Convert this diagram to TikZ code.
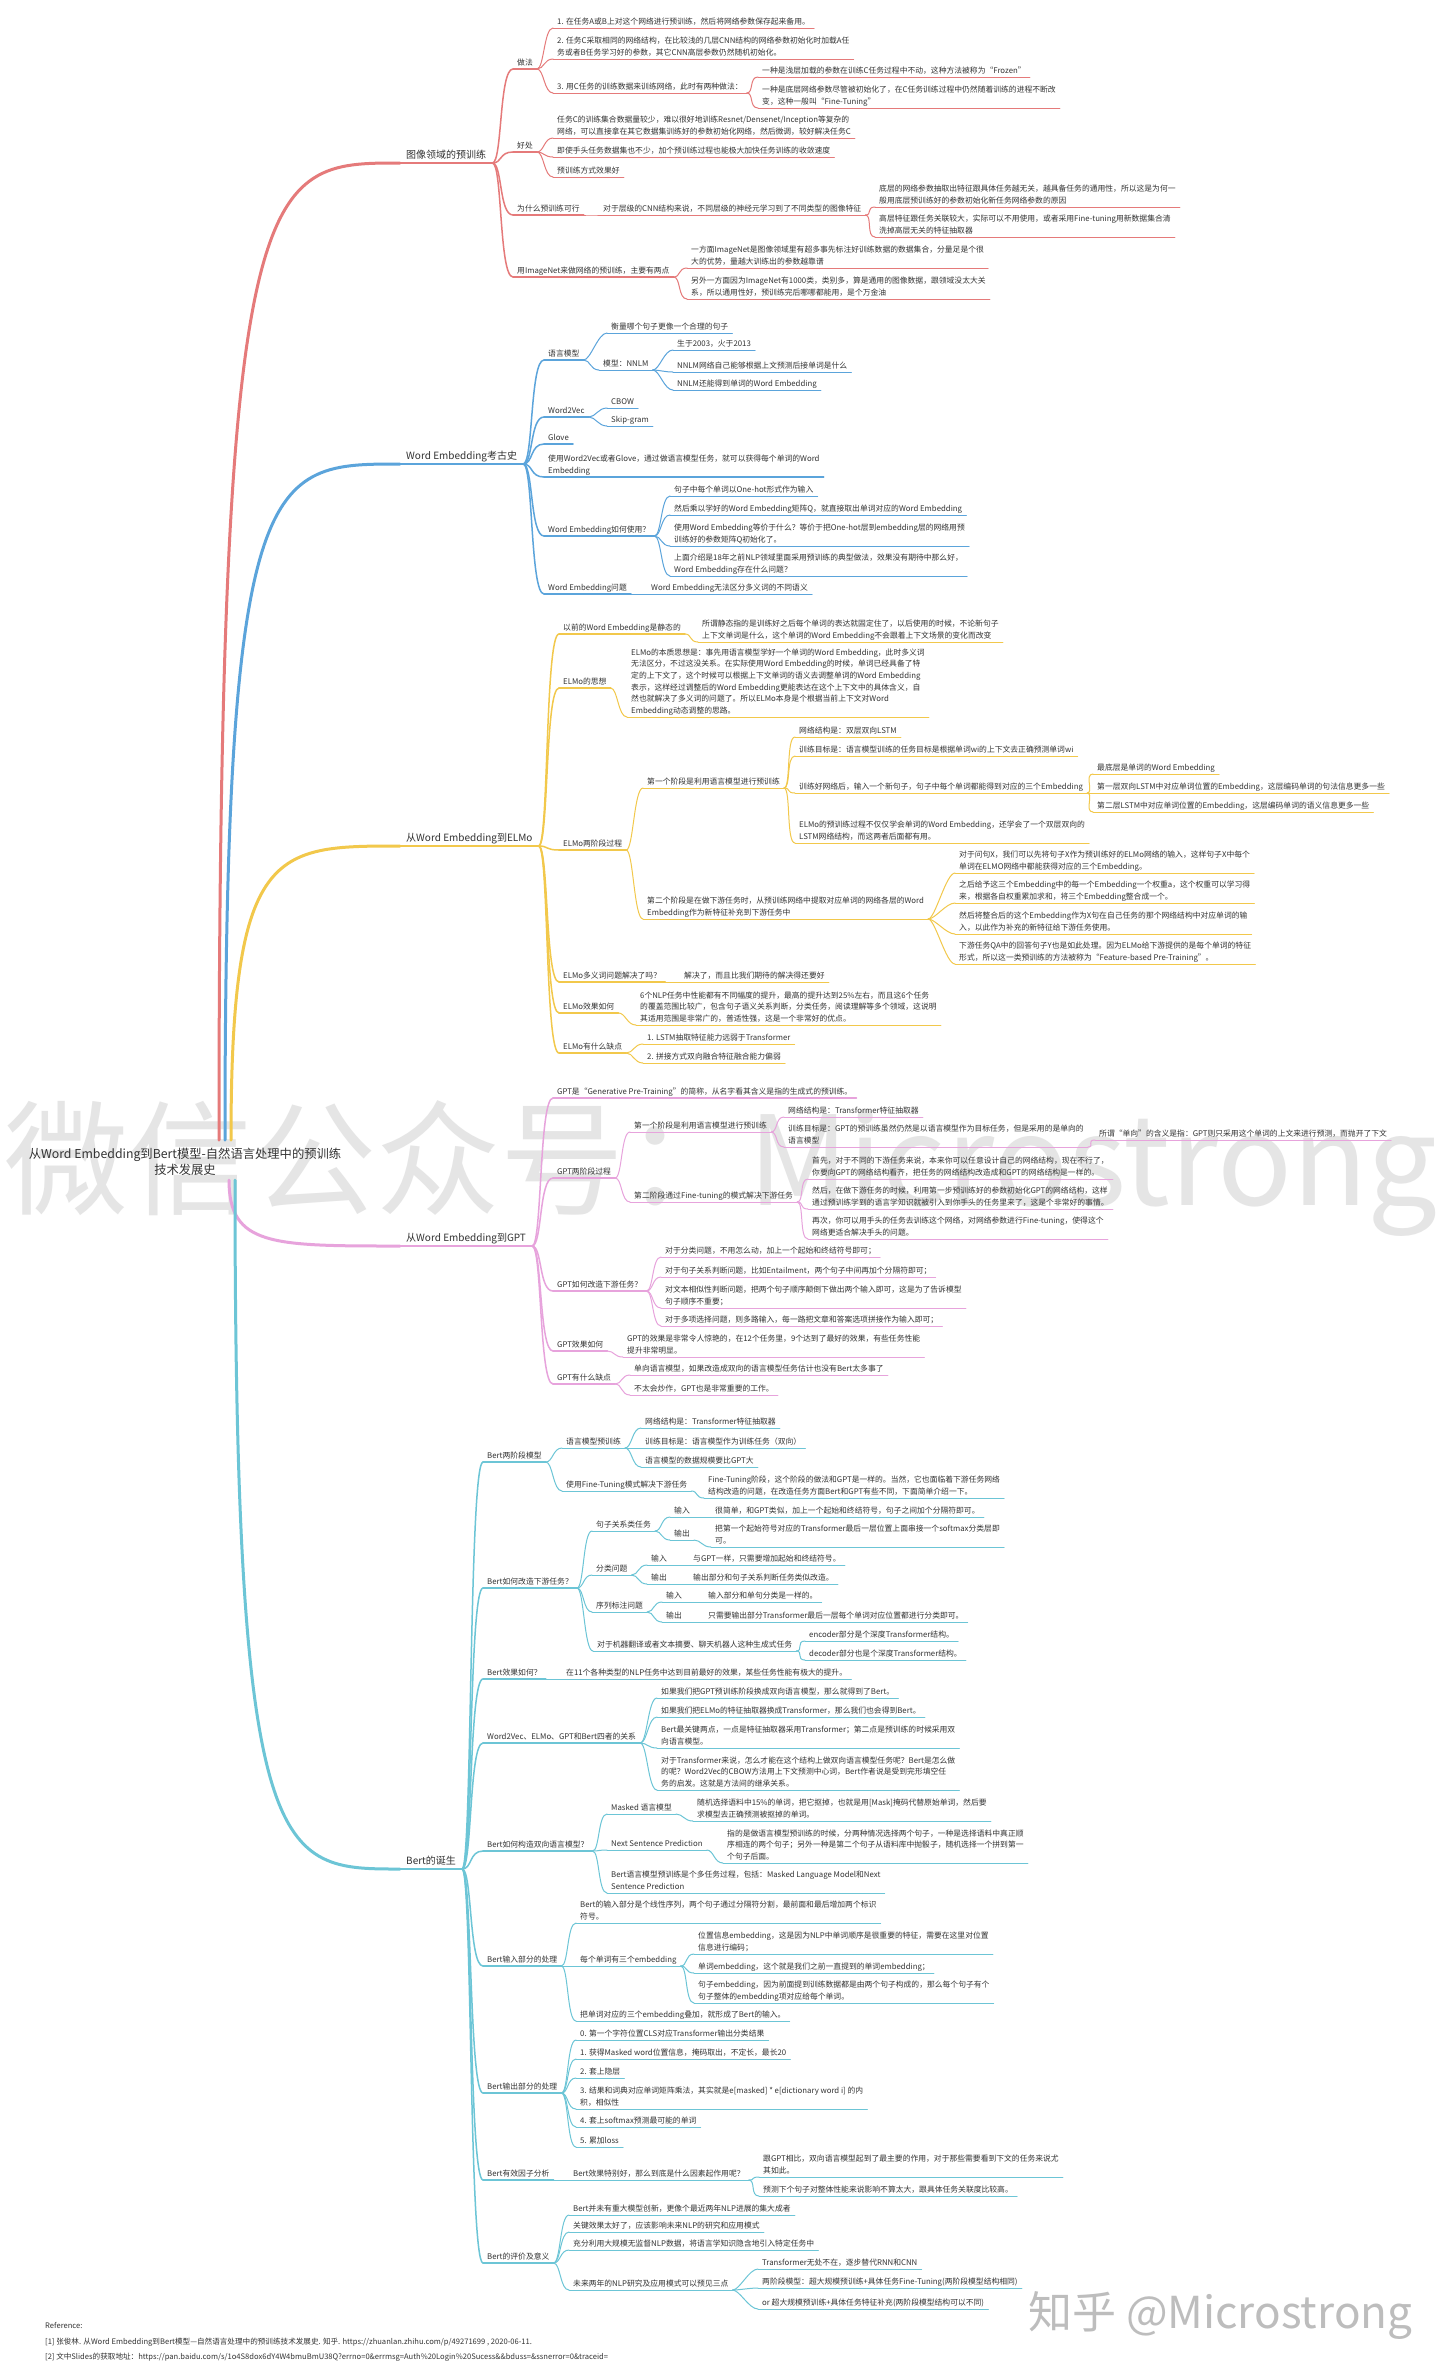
\documentclass[tikz,border=0pt]{standalone}
\usepackage{fontspec}
\setmainfont{Noto Sans CJK SC}
\definecolor{cA}{HTML}{E57A7A}
\definecolor{cB}{HTML}{5BA4DB}
\definecolor{cC}{HTML}{F2C84B}
\definecolor{cD}{HTML}{E7A3DC}
\definecolor{cE}{HTML}{6CC5D6}
\definecolor{txt}{HTML}{333333}
\tikzset{
 leafnode/.style={anchor=south west, inner xsep=4pt, inner ysep=0pt, align=left, font=\fontsize{7.8}{11.6}\selectfont, text=txt},
 secnode/.style={anchor=south west, inner xsep=6pt, inner ysep=0pt, font=\fontsize{10}{13}\selectfont, text=txt},
 rootnode/.style={align=center, inner sep=0pt, font=\fontsize{12.3}{16}\selectfont, text=txt},
}
\newcommand{\mmnode}[6][1pt]{%
  \node[leafnode] (#2) at ({#4-4},{#5}) {#6\strut};
  \draw[#3, line width=#1, line cap=round] (#2.south west) -- (#2.south east);}
\newcommand{\mmsec}[5]{%
  \node[secnode] (#1) at ({#3-6},{#4}) {#5\strut};
  \draw[#2, line width=2.6pt, line cap=round] (#1.south west) -- (#1.south east);}
\newcommand{\mmcon}[4][1pt]{%
  \draw[#4, line width=#1, line cap=round] (#2.south east) .. controls +(7,0) and +(-9,0) .. (#3.south west);}
\newcommand{\mmseccon}[3]{%
  \draw[#3, line width=1.5pt, line cap=round] (#1.south east) .. controls +(10,0) and +(-14,0) .. (#2.south west);}
\begin{document}
\begin{tikzpicture}[x=1pt,y=-1pt]
\fill[white] (0,0) rectangle (1440,2378);
\useasboundingbox (0,0) rectangle (1440,2378);
% watermarks
\node[anchor=base west, inner sep=0pt, text=black!10, font=\fontsize{124}{124}\selectfont] (wm) at (4,1205) {微信公众号：Microstrong};
\node[anchor=base west, inner sep=0pt, text=black!26, font=\fontsize{44}{44}\selectfont] (zh) at (1028,2328) {知乎 @Microstrong};
% root
\node[rootnode] (root) at (185,1162) {从Word Embedding到Bert模型-自然语言处理中的预训练\\技术发展史};
\coordinate (rA) at (219,1140);
\coordinate (rB) at (225,1140);
\coordinate (rC) at (231,1140);
\coordinate (rD) at (229,1180);
\coordinate (rE) at (235,1180);

% ===== Section A =====
\mmsec{a}{cA}{406}{163}{图像领域的预训练}
\mmnode[1.5pt]{a1}{cA}{517}{69}{做法}
\mmnode{a11}{cA}{557}{28}{1. 在任务A或B上对这个网络进行预训练，然后将网络参数保存起来备用。}
\mmnode{a12}{cA}{557}{59}{2. 任务C采取相同的网络结构，在比较浅的几层CNN结构的网络参数初始化时加载A任\\务或者B任务学习好的参数，其它CNN高层参数仍然随机初始化。}
\mmnode{a13}{cA}{557}{93}{3. 用C任务的训练数据来训练网络，此时有两种做法：}
\mmnode{a131}{cA}{762}{77}{一种是浅层加载的参数在训练C任务过程中不动，这种方法被称为“Frozen”}
\mmnode{a132}{cA}{762}{108}{一种是底层网络参数尽管被初始化了，在C任务训练过程中仍然随着训练的进程不断改\\变，这种一般叫“Fine-Tuning”}
\mmnode[1.5pt]{a2}{cA}{517}{152}{好处}
\mmnode{a21}{cA}{557}{138}{任务C的训练集合数据量较少，难以很好地训练Resnet/Densenet/Inception等复杂的\\网络，可以直接拿在其它数据集训练好的参数初始化网络，然后微调，较好解决任务C}
\mmnode{a22}{cA}{557}{157}{即使手头任务数据集也不少，加个预训练过程也能极大加快任务训练的收敛速度}
\mmnode{a23}{cA}{557}{177}{预训练方式效果好}
\mmnode[1.5pt]{a3}{cA}{517}{215}{为什么预训练可行}
\mmnode{a31}{cA}{603}{215}{对于层级的CNN结构来说，不同层级的神经元学习到了不同类型的图像特征}
\mmnode{a311}{cA}{879}{207}{底层的网络参数抽取出特征跟具体任务越无关，越具备任务的通用性，所以这是为何一\\般用底层预训练好的参数初始化新任务网络参数的原因}
\mmnode{a312}{cA}{879}{237}{高层特征跟任务关联较大，实际可以不用使用，或者采用Fine-tuning用新数据集合清\\洗掉高层无关的特征抽取器}
\mmnode[1.5pt]{a4}{cA}{517}{277}{用ImageNet来做网络的预训练，主要有两点}
\mmnode{a41}{cA}{691}{268}{一方面ImageNet是图像领域里有超多事先标注好训练数据的数据集合，分量足是个很\\大的优势，量越大训练出的参数越靠谱}
\mmnode{a42}{cA}{691}{299}{另外一方面因为ImageNet有1000类，类别多，算是通用的图像数据，跟领域没太大关\\系，所以通用性好，预训练完后哪哪都能用，是个万金油}
\foreach \c in {a1,a2,a3,a4} {\mmseccon{a}{\c}{cA}}
\foreach \p/\c in {a1/a11,a1/a12,a1/a13,a13/a131,a13/a132,a2/a21,a2/a22,a2/a23,a3/a31,a31/a311,a31/a312,a4/a41,a4/a42} {\mmcon{\p}{\c}{cA}}

% ===== Section B =====
\mmsec{b}{cB}{406}{464}{Word Embedding考古史}
\mmnode[1.5pt]{b1}{cB}{548}{360}{语言模型}
\mmnode{b11}{cB}{611}{333}{衡量哪个句子更像一个合理的句子}
\mmnode{b12}{cB}{603}{370}{模型：NNLM}
\mmnode{b121}{cB}{677}{350}{生于2003，火于2013}
\mmnode{b122}{cB}{677}{372}{NNLM网络自己能够根据上文预测后接单词是什么}
\mmnode{b123}{cB}{677}{390}{NNLM还能得到单词的Word Embedding}
\mmnode[1.5pt]{b2}{cB}{548}{417}{Word2Vec}
\mmnode{b21}{cB}{611}{408}{CBOW}
\mmnode{b22}{cB}{611}{426}{Skip-gram}
\mmnode[1.5pt]{b3}{cB}{548}{444}{Glove}
\mmnode[1.5pt]{b4}{cB}{548}{477}{使用Word2Vec或者Glove，通过做语言模型任务，就可以获得每个单词的Word\\Embedding}
\mmnode[1.5pt]{b5}{cB}{548}{536}{Word Embedding如何使用？}
\mmnode{b51}{cB}{674}{496}{句子中每个单词以One-hot形式作为输入}
\mmnode{b52}{cB}{674}{515}{然后乘以学好的Word Embedding矩阵Q，就直接取出单词对应的Word Embedding}
\mmnode{b53}{cB}{674}{546}{使用Word Embedding等价于什么？等价于把One-hot层到embedding层的网络用预\\训练好的参数矩阵Q初始化了。}
\mmnode{b54}{cB}{674}{576}{上面介绍是18年之前NLP领域里面采用预训练的典型做法，效果没有期待中那么好，\\Word Embedding存在什么问题？}
\mmnode[1.5pt]{b6}{cB}{548}{594}{Word Embedding问题}
\mmnode{b61}{cB}{651}{594}{Word Embedding无法区分多义词的不同语义}
\foreach \c in {b1,b2,b3,b4,b5,b6} {\mmseccon{b}{\c}{cB}}
\foreach \p/\c in {b1/b11,b1/b12,b12/b121,b12/b122,b12/b123,b2/b21,b2/b22,b5/b51,b5/b52,b5/b53,b5/b54,b6/b61} {\mmcon{\p}{\c}{cB}}

% ===== Section C =====
\mmsec{c}{cC}{406}{846}{从Word Embedding到ELMo}
\mmnode[1.5pt]{c1}{cC}{563}{634}{以前的Word Embedding是静态的}
\mmnode{c11}{cC}{702}{642}{所谓静态指的是训练好之后每个单词的表达就固定住了，以后使用的时候，不论新句子\\上下文单词是什么，这个单词的Word Embedding不会跟着上下文场景的变化而改变}
\mmnode[1.5pt]{c2}{cC}{563}{688}{ELMo的思想}
\mmnode{c21}{cC}{631}{717}{ELMo的本质思想是：事先用语言模型学好一个单词的Word Embedding，此时多义词\\无法区分，不过这没关系。在实际使用Word Embedding的时候，单词已经具备了特\\定的上下文了，这个时候可以根据上下文单词的语义去调整单词的Word Embedding\\表示，这样经过调整后的Word Embedding更能表达在这个上下文中的具体含义，自\\然也就解决了多义词的问题了。所以ELMo本身是个根据当前上下文对Word\\Embedding动态调整的思路。}
\mmnode[1.5pt]{c3}{cC}{563}{850}{ELMo两阶段过程}
\mmnode{c31}{cC}{647}{788}{第一个阶段是利用语言模型进行预训练}
\mmnode{c311}{cC}{799}{737}{网络结构是：双层双向LSTM}
\mmnode{c312}{cC}{799}{756}{训练目标是：语言模型训练的任务目标是根据单词wi的上下文去正确预测单词wi}
\mmnode{c313}{cC}{799}{793}{训练好网络后，输入一个新句子，句子中每个单词都能得到对应的三个Embedding}
\mmnode{c3131}{cC}{1097}{774}{最底层是单词的Word Embedding}
\mmnode{c3132}{cC}{1097}{793}{第一层双向LSTM中对应单词位置的Embedding，这层编码单词的句法信息更多一些}
\mmnode{c3133}{cC}{1097}{812}{第二层LSTM中对应单词位置的Embedding，这层编码单词的语义信息更多一些}
\mmnode{c314}{cC}{799}{843}{ELMo的预训练过程不仅仅学会单词的Word Embedding，还学会了一个双层双向的\\LSTM网络结构，而这两者后面都有用。}
\mmnode{c32}{cC}{647}{919}{第二个阶段是在做下游任务时，从预训练网络中提取对应单词的网络各层的Word\\Embedding作为新特征补充到下游任务中}
\mmnode{c321}{cC}{959}{873}{对于问句X，我们可以先将句子X作为预训练好的ELMo网络的输入，这样句子X中每个\\单词在ELMO网络中都能获得对应的三个Embedding。}
\mmnode{c322}{cC}{959}{903}{之后给予这三个Embedding中的每一个Embedding一个权重a，这个权重可以学习得\\来，根据各自权重累加求和，将三个Embedding整合成一个。}
\mmnode{c323}{cC}{959}{934}{然后将整合后的这个Embedding作为X句在自己任务的那个网络结构中对应单词的输\\入，以此作为补充的新特征给下游任务使用。}
\mmnode{c324}{cC}{959}{964}{下游任务QA中的回答句子Y也是如此处理。因为ELMo给下游提供的是每个单词的特征\\形式，所以这一类预训练的方法被称为“Feature-based Pre-Training”。}
\mmnode[1.5pt]{c4}{cC}{563}{982}{ELMo多义词问题解决了吗？}
\mmnode{c41}{cC}{684}{982}{解决了，而且比我们期待的解决得还要好}
\mmnode[1.5pt]{c5}{cC}{563}{1013}{ELMo效果如何}
\mmnode{c51}{cC}{640}{1025}{6个NLP任务中性能都有不同幅度的提升，最高的提升达到25\%左右，而且这6个任务\\的覆盖范围比较广，包含句子语义关系判断，分类任务，阅读理解等多个领域，这说明\\其适用范围是非常广的，普适性强，这是一个非常好的优点。}
\mmnode[1.5pt]{c6}{cC}{563}{1053}{ELMo有什么缺点}
\mmnode{c61}{cC}{647}{1044}{1. LSTM抽取特征能力远弱于Transformer}
\mmnode{c62}{cC}{647}{1063}{2. 拼接方式双向融合特征融合能力偏弱}
\foreach \c in {c1,c2,c3,c4,c5,c6} {\mmseccon{c}{\c}{cC}}
\foreach \p/\c in {c1/c11,c2/c21,c3/c31,c3/c32,c31/c311,c31/c312,c31/c313,c31/c314,c313/c3131,c313/c3132,c313/c3133,c32/c321,c32/c322,c32/c323,c32/c324,c4/c41,c5/c51,c6/c61,c6/c62} {\mmcon{\p}{\c}{cC}}

% ===== Section D =====
\mmsec{d}{cD}{406}{1246}{从Word Embedding到GPT}
\mmnode[1.5pt]{d1}{cD}{557}{1098}{GPT是“Generative Pre-Training”的简称，从名字看其含义是指的生成式的预训练。}
\mmnode[1.5pt]{d2}{cD}{557}{1178}{GPT两阶段过程}
\mmnode{d21}{cD}{634}{1132}{第一个阶段是利用语言模型进行预训练}
\mmnode{d211}{cD}{788}{1117}{网络结构是：Transformer特征抽取器}
\mmnode{d212}{cD}{788}{1147}{训练目标是：GPT的预训练虽然仍然是以语言模型作为目标任务，但是采用的是单向的\\语言模型}
\mmnode{d2121}{cD}{1099}{1140}{所谓“单向”的含义是指：GPT则只采用这个单词的上文来进行预测，而抛开了下文}
\mmnode{d22}{cD}{634}{1202}{第二阶段通过Fine-tuning的模式解决下游任务}
\mmnode{d221}{cD}{812}{1179}{首先，对于不同的下游任务来说，本来你可以任意设计自己的网络结构，现在不行了，\\你要向GPT的网络结构看齐，把任务的网络结构改造成和GPT的网络结构是一样的。}
\mmnode{d222}{cD}{812}{1209}{然后，在做下游任务的时候，利用第一步预训练好的参数初始化GPT的网络结构，这样\\通过预训练学到的语言学知识就被引入到你手头的任务里来了，这是个非常好的事情。}
\mmnode{d223}{cD}{812}{1239}{再次，你可以用手头的任务去训练这个网络，对网络参数进行Fine-tuning，使得这个\\网络更适合解决手头的问题。}
\mmnode[1.5pt]{d3}{cD}{557}{1291}{GPT如何改造下游任务？}
\mmnode{d31}{cD}{665}{1257}{对于分类问题，不用怎么动，加上一个起始和终结符号即可；}
\mmnode{d32}{cD}{665}{1277}{对于句子关系判断问题，比如Entailment，两个句子中间再加个分隔符即可；}
\mmnode{d33}{cD}{665}{1308}{对文本相似性判断问题，把两个句子顺序颠倒下做出两个输入即可，这是为了告诉模型\\句子顺序不重要；}
\mmnode{d34}{cD}{665}{1326}{对于多项选择问题，则多路输入，每一路把文章和答案选项拼接作为输入即可；}
\mmnode[1.5pt]{d4}{cD}{557}{1351}{GPT效果如何}
\mmnode{d41}{cD}{627}{1357}{GPT的效果是非常令人惊艳的，在12个任务里，9个达到了最好的效果，有些任务性能\\提升非常明显。}
\mmnode[1.5pt]{d5}{cD}{557}{1384}{GPT有什么缺点}
\mmnode{d51}{cD}{634}{1375}{单向语言模型，如果改造成双向的语言模型任务估计也没有Bert太多事了}
\mmnode{d52}{cD}{634}{1395}{不太会炒作，GPT也是非常重要的工作。}
\foreach \c in {d1,d2,d3,d4,d5} {\mmseccon{d}{\c}{cD}}
\foreach \p/\c in {d2/d21,d2/d22,d21/d211,d21/d212,d212/d2121,d22/d221,d22/d222,d22/d223,d3/d31,d3/d32,d3/d33,d3/d34,d4/d41,d5/d51,d5/d52} {\mmcon{\p}{\c}{cD}}

% ===== Section E =====
\mmsec{e}{cE}{406}{1869}{Bert的诞生}
\mmnode[1.5pt]{e1}{cE}{487}{1462}{Bert两阶段模型}
\mmnode{e11}{cE}{566}{1448}{语言模型预训练}
\mmnode{e111}{cE}{645}{1428}{网络结构是：Transformer特征抽取器}
\mmnode{e112}{cE}{645}{1448}{训练目标是：语言模型作为训练任务（双向）}
\mmnode{e113}{cE}{645}{1467}{语言模型的数据规模要比GPT大}
\mmnode{e12}{cE}{566}{1491}{使用Fine-Tuning模式解决下游任务}
\mmnode{e121}{cE}{708}{1498}{Fine-Tuning阶段，这个阶段的做法和GPT是一样的。当然，它也面临着下游任务网络\\结构改造的问题，在改造任务方面Bert和GPT有些不同，下面简单介绍一下。}
\mmnode[1.5pt]{e2}{cE}{487}{1588}{Bert如何改造下游任务？}
\mmnode{e21}{cE}{596}{1531}{句子关系类任务}
\mmnode{e211}{cE}{674}{1517}{输入}
\mmnode{e2111}{cE}{715}{1517}{很简单，和GPT类似，加上一个起始和终结符号，句子之间加个分隔符即可。}
\mmnode{e212}{cE}{674}{1540}{输出}
\mmnode{e2121}{cE}{715}{1547}{把第一个起始符号对应的Transformer最后一层位置上面串接一个softmax分类层即\\可。}
\mmnode{e22}{cE}{596}{1575}{分类问题}
\mmnode{e221}{cE}{651}{1565}{输入}
\mmnode{e2211}{cE}{693}{1565}{与GPT一样，只需要增加起始和终结符号。}
\mmnode{e222}{cE}{651}{1584}{输出}
\mmnode{e2221}{cE}{693}{1584}{输出部分和句子关系判断任务类似改造。}
\mmnode{e23}{cE}{596}{1612}{序列标注问题}
\mmnode{e231}{cE}{666}{1602}{输入}
\mmnode{e2311}{cE}{708}{1602}{输入部分和单句分类是一样的。}
\mmnode{e232}{cE}{666}{1622}{输出}
\mmnode{e2321}{cE}{708}{1622}{只需要输出部分Transformer最后一层每个单词对应位置都进行分类即可。}
\mmnode{e24}{cE}{597}{1651}{对于机器翻译或者文本摘要、聊天机器人这种生成式任务}
\mmnode{e241}{cE}{809}{1641}{encoder部分是个深度Transformer结构。}
\mmnode{e242}{cE}{809}{1660}{decoder部分也是个深度Transformer结构。}
\mmnode[1.5pt]{e3}{cE}{487}{1679}{Bert效果如何？}
\mmnode{e31}{cE}{566}{1679}{在11个各种类型的NLP任务中达到目前最好的效果，某些任务性能有极大的提升。}
\mmnode[1.5pt]{e4}{cE}{487}{1743}{Word2Vec、ELMo、GPT和Bert四者的关系}
\mmnode{e41}{cE}{661}{1698}{如果我们把GPT预训练阶段换成双向语言模型，那么就得到了Bert。}
\mmnode{e42}{cE}{661}{1717}{如果我们把ELMo的特征抽取器换成Transformer，那么我们也会得到Bert。}
\mmnode{e43}{cE}{661}{1748}{Bert最关键两点，一点是特征抽取器采用Transformer；第二点是预训练的时候采用双\\向语言模型。}
\mmnode{e44}{cE}{661}{1790}{对于Transformer来说，怎么才能在这个结构上做双向语言模型任务呢？Bert是怎么做\\的呢？Word2Vec的CBOW方法用上下文预测中心词，Bert作者说是受到完形填空任\\务的启发。这就是方法间的继承关系。}
\mmnode[1.5pt]{e5}{cE}{487}{1851}{Bert如何构造双向语言模型？}
\mmnode{e51}{cE}{611}{1814}{Masked 语言模型}
\mmnode{e511}{cE}{697}{1821}{随机选择语料中15\%的单词，把它抠掉，也就是用[Mask]掩码代替原始单词，然后要\\求模型去正确预测被抠掉的单词。}
\mmnode{e52}{cE}{611}{1850}{Next Sentence Prediction}
\mmnode{e521}{cE}{727}{1863}{指的是做语言模型预训练的时候，分两种情况选择两个句子，一种是选择语料中真正顺\\序相连的两个句子；另外一种是第二个句子从语料库中抛骰子，随机选择一个拼到第一\\个句子后面。}
\mmnode{e53}{cE}{611}{1893}{Bert语言模型预训练是个多任务过程，包括：Masked Language Model和Next\\Sentence Prediction}
\mmnode[1.5pt]{e6}{cE}{487}{1966}{Bert输入部分的处理}
\mmnode{e61}{cE}{580}{1923}{Bert的输入部分是个线性序列，两个句子通过分隔符分割，最前面和最后增加两个标识\\符号。}
\mmnode{e62}{cE}{580}{1966}{每个单词有三个embedding}
\mmnode{e621}{cE}{698}{1954}{位置信息embedding，这是因为NLP中单词顺序是很重要的特征，需要在这里对位置\\信息进行编码；}
\mmnode{e622}{cE}{698}{1973}{单词embedding，这个就是我们之前一直提到的单词embedding；}
\mmnode{e623}{cE}{698}{2003}{句子embedding，因为前面提到训练数据都是由两个句子构成的，那么每个句子有个\\句子整体的embedding项对应给每个单词。}
\mmnode{e63}{cE}{580}{2021}{把单词对应的三个embedding叠加，就形成了Bert的输入。}
\mmnode[1.5pt]{e7}{cE}{487}{2093}{Bert输出部分的处理}
\mmnode{e71}{cE}{580}{2040}{0. 第一个字符位置CLS对应Transformer输出分类结果}
\mmnode{e72}{cE}{580}{2059}{1. 获得Masked word位置信息，掩码取出，不定长，最长20}
\mmnode{e73}{cE}{580}{2078}{2. 套上隐层}
\mmnode{e74}{cE}{580}{2109}{3. 结果和词典对应单词矩阵乘法，其实就是e[masked] * e[dictionary word i] 的内\\积，相似性}
\mmnode{e75}{cE}{580}{2127}{4. 套上softmax预测最可能的单词}
\mmnode{e76}{cE}{580}{2147}{5. 累加loss}
\mmnode[1.5pt]{e8}{cE}{487}{2180}{Bert有效因子分析}
\mmnode{e81}{cE}{573}{2180}{Bert效果特别好，那么到底是什么因素起作用呢？}
\mmnode{e811}{cE}{763}{2177}{跟GPT相比，双向语言模型起到了最主要的作用，对于那些需要看到下文的任务来说尤\\其如此。}
\mmnode{e812}{cE}{763}{2196}{预测下个句子对整体性能来说影响不算太大，跟具体任务关联度比较高。}
\mmnode[1.5pt]{e9}{cE}{487}{2263}{Bert的评价及意义}
\mmnode{e91}{cE}{573}{2215}{Bert并未有重大模型创新，更像个最近两年NLP进展的集大成者}
\mmnode{e92}{cE}{573}{2232}{关键效果太好了，应该影响未来NLP的研究和应用模式}
\mmnode{e93}{cE}{573}{2250}{充分利用大规模无监督NLP数据，将语言学知识隐含地引入特定任务中}
\mmnode{e94}{cE}{573}{2290}{未来两年的NLP研究及应用模式可以预见三点}
\mmnode{e941}{cE}{762}{2269}{Transformer无处不在，逐步替代RNN和CNN}
\mmnode{e942}{cE}{762}{2288}{两阶段模型：超大规模预训练+具体任务Fine-Tuning(两阶段模型结构相同)}
\mmnode{e943}{cE}{762}{2309}{or 超大规模预训练+具体任务特征补充(两阶段模型结构可以不同)}
\foreach \c in {e1,e2,e3,e4,e5,e6,e7,e8,e9} {\mmseccon{e}{\c}{cE}}
\foreach \p/\c in {e1/e11,e1/e12,e11/e111,e11/e112,e11/e113,e12/e121,e2/e21,e2/e22,e2/e23,e2/e24,e21/e211,e21/e212,e211/e2111,e212/e2121,e22/e221,e22/e222,e221/e2211,e222/e2221,e23/e231,e23/e232,e231/e2311,e232/e2321,e24/e241,e24/e242,e3/e31,e4/e41,e4/e42,e4/e43,e4/e44,e5/e51,e5/e52,e5/e53,e51/e511,e52/e521,e6/e61,e6/e62,e6/e63,e62/e621,e62/e622,e62/e623,e7/e71,e7/e72,e7/e73,e7/e74,e7/e75,e7/e76,e8/e81,e81/e811,e81/e812,e9/e91,e9/e92,e9/e93,e9/e94,e94/e941,e94/e942,e94/e943} {\mmcon{\p}{\c}{cE}}

% ===== root branches =====
\draw[cA, line width=3pt, line cap=round] (rA) .. controls (219,163) and (262,163) .. (a.south west);
\draw[cB, line width=3pt, line cap=round] (rB) .. controls (225,464) and (268,464) .. (b.south west);
\draw[cC, line width=3pt, line cap=round] (rC) .. controls (231,846) and (274,846) .. (c.south west);
\draw[cD, line width=3pt, line cap=round] (rD) .. controls (229,1246) and (272,1246) .. (d.south west);
\draw[cE, line width=3pt, line cap=round] (rE) .. controls (235,1869) and (278,1869) .. (e.south west);

% ===== references =====
\node[anchor=base west, inner sep=0pt, text=txt, font=\fontsize{7.6}{10}\selectfont] (ref0) at (45,2328) {Reference:};
\node[anchor=base west, inner sep=0pt, text=txt, font=\fontsize{7.6}{10}\selectfont] (ref1) at (45,2344) {[1] 张俊林. 从Word Embedding到Bert模型—自然语言处理中的预训练技术发展史. 知乎. https://zhuanlan.zhihu.com/p/49271699 , 2020-06-11.};
\node[anchor=base west, inner sep=0pt, text=txt, font=\fontsize{7.6}{10}\selectfont] (ref2) at (45,2359) {[2] 文中Slides的获取地址：https://pan.baidu.com/s/1o4S8dox6dY4W4bmuBmU38Q?errno=0\&errmsg=Auth\%20Login\%20Sucess\&\&bduss=\&ssnerror=0\&traceid=};
\end{tikzpicture}
\end{document}
